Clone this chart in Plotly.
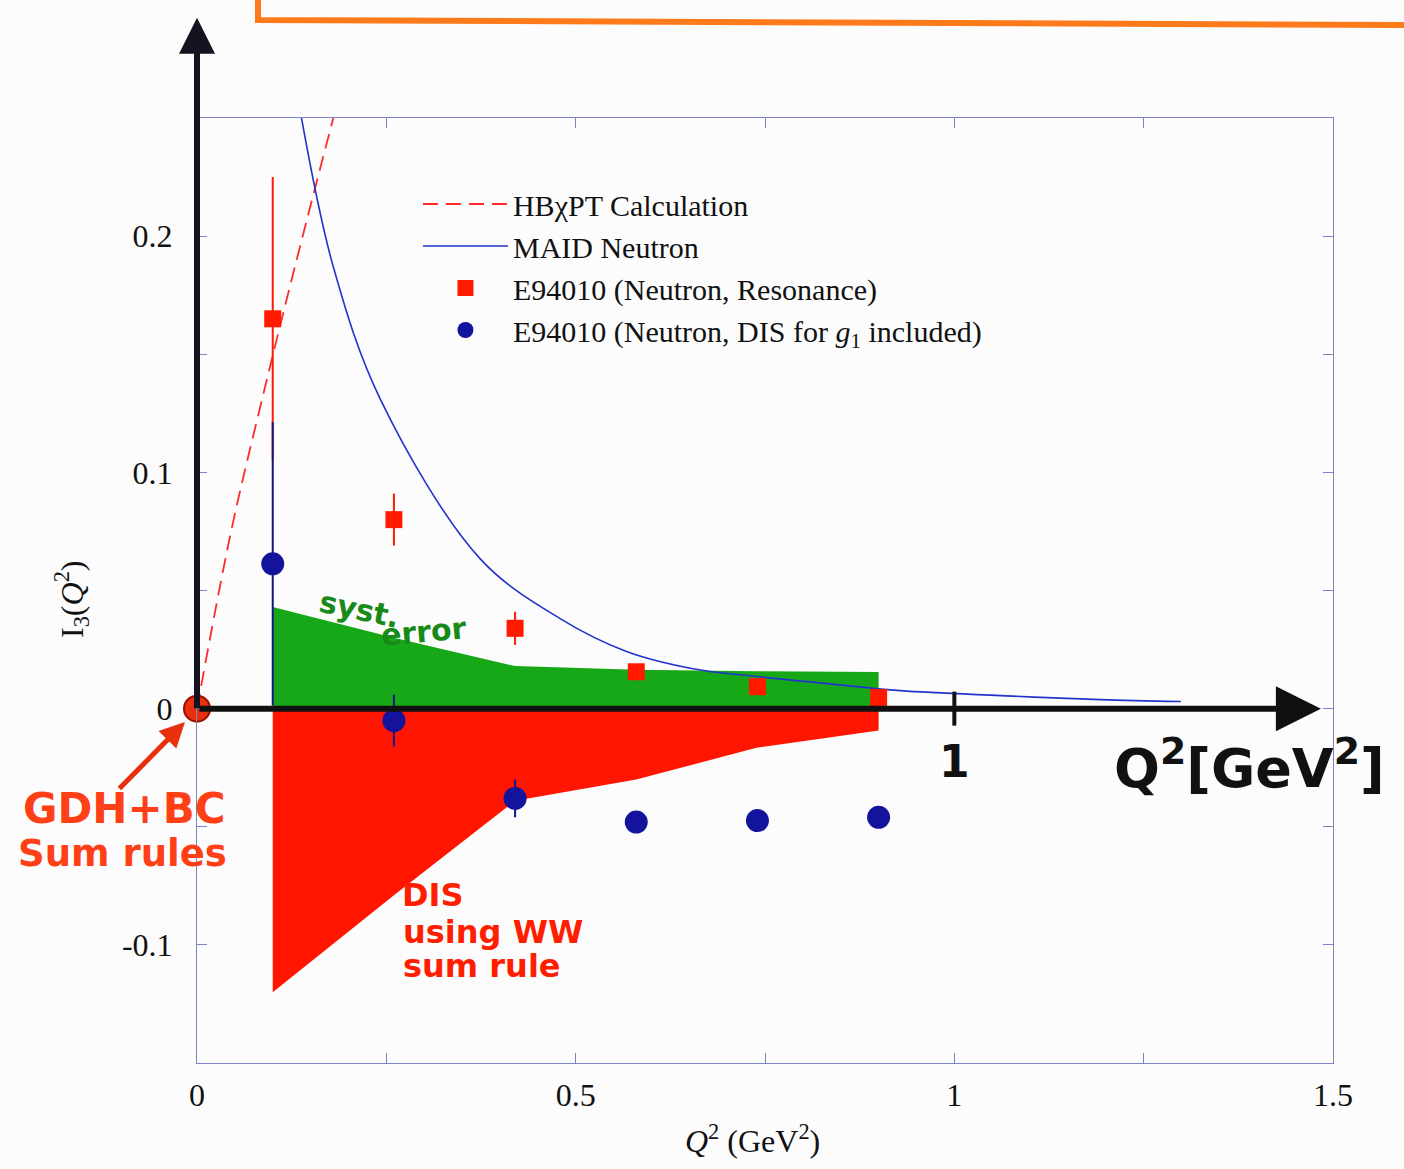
import plotly.graph_objects as go

# ---- data -------------------------------------------------------------
# HBχPT calculation (dashed red)
hb_q2 = [0.0, 0.045, 0.086, 0.13, 0.18]
hb_i3 = [0.0, 0.075, 0.131, 0.188, 0.25]

# MAID neutron curve (solid blue)
maid_q2 = [0.138, 0.18, 0.242, 0.374, 0.48, 0.568, 0.655, 0.727,
           0.832, 0.929, 1.061, 1.193, 1.299]
maid_i3 = [0.250, 0.187, 0.131, 0.0634, 0.038, 0.0241, 0.0169, 0.014,
           0.0106, 0.0076, 0.0055, 0.0038, 0.003]

# E94010 neutron, resonance only
res_q2 = [0.1, 0.26, 0.42, 0.58, 0.74, 0.90]
res_i3 = [0.165, 0.080, 0.034, 0.0156, 0.0093, 0.0047]
res_err = [0.060, 0.011, 0.007, 0.003, 0.002, 0.002]

# E94010 neutron, DIS for g1 included
dis_q2 = [0.1, 0.26, 0.42, 0.58, 0.74, 0.90]
dis_i3 = [0.0613, -0.0051, -0.038, -0.048, -0.0474, -0.046]
dis_err = [0.060, 0.011, 0.008, 0.0, 0.0, 0.0]

# systematic error band (green) and DIS-via-WW band (red)
band_q2 = [0.1, 0.26, 0.42, 0.58, 0.74, 0.90]
syst_top = [0.043, 0.030, 0.018, 0.0165, 0.0158, 0.0155]
ww_low = [-0.120, -0.079, -0.039, -0.030, -0.0165, -0.0093]

# axis ticks
x_tick_vals = [0, 0.25, 0.5, 0.75, 1.0, 1.25, 1.5]
x_tick_text = ["0", "", "0.5", "", "1", "", "1.5"]
y_tick_vals = [-0.15, -0.1, -0.05, 0, 0.05, 0.1, 0.15, 0.2, 0.25]
y_tick_text = ["", "-0.1", "", "0", "", "0.1", "", "0.2", ""]

SERIF = "Liberation Serif"
HAND = "DejaVu Sans"
FRAME = "#7d84c4"

fig = go.Figure()

# shaded bands
zeros = [0.0] * len(band_q2)
fig.add_trace(go.Scatter(
    x=band_q2 + band_q2[::-1], y=zeros + ww_low[::-1],
    fill="toself", fillcolor="#ff1500", mode="none",
    showlegend=False, hoverinfo="skip"))
fig.add_trace(go.Scatter(
    x=band_q2 + band_q2[::-1], y=syst_top + zeros[::-1],
    fill="toself", fillcolor="#16a816", mode="none",
    showlegend=False, hoverinfo="skip"))

# theory curves
fig.add_trace(go.Scatter(
    x=hb_q2, y=hb_i3, mode="lines", name="HBχPT Calculation",
    line=dict(color="#ff2b2b", width=1.8, dash="15px,8px", shape="spline")))
fig.add_trace(go.Scatter(
    x=maid_q2, y=maid_i3, mode="lines", name="MAID Neutron",
    line=dict(color="#2233cc", width=1.6, shape="spline", smoothing=1.0)))

# data points
fig.add_trace(go.Scatter(
    x=res_q2, y=res_i3, mode="markers",
    name="E94010 (Neutron, Resonance)",
    marker=dict(symbol="square", size=17, color="#ff1a00"),
    error_y=dict(type="data", array=res_err, color="#ff1a00",
                 thickness=2, width=0)))
fig.add_trace(go.Scatter(
    x=dis_q2, y=dis_i3, mode="markers",
    name="E94010 (Neutron, DIS for <i>g</i><sub>1</sub> included)",
    marker=dict(symbol="circle", size=23, color="#13139c"),
    error_y=dict(type="data", array=dis_err, color="#15158a",
                 thickness=2, width=0)))

# sum-rule point at the origin
fig.add_trace(go.Scatter(
    x=[0], y=[0], mode="markers", showlegend=False, cliponaxis=False,
    marker=dict(size=26, color="#e8300c",
                line=dict(color="#9c1000", width=2)),
    hoverinfo="skip"))

C = dict(xanchor="center", yanchor="middle", showarrow=False)

annotations = [
    # hand-drawn axes arrows
    dict(x=0, xref="x", y=1.106, yref="paper", ax=0, ay=692,
         showarrow=True, arrowhead=2, arrowsize=1.2, arrowwidth=6,
         arrowcolor="#141420", text=""),
    dict(x=1.484, y=0, xref="x", yref="y", ax=-1123, ay=0,
         showarrow=True, arrowhead=2, arrowsize=1.5, arrowwidth=6,
         arrowcolor="#101010", text=""),
    dict(x=1.0, y=-0.0225, xref="x", yref="y", text="<b>1</b>",
         font=dict(family=HAND, size=44, color="#111"), **C),
    dict(x=1.390, y=-0.0235, xref="x", yref="y",
         text="<b>Q<sup>2</sup>[GeV<sup>2</sup>]</b>",
         font=dict(family=HAND, size=54, color="#111"), **C),
    # GDH + BC note (outside the plot area, so placed in paper units)
    dict(x=-0.0106, y=0.3608, xref="paper", yref="paper", ax=-67, ay=68,
         showarrow=True, arrowhead=2, arrowsize=1.0, arrowwidth=5,
         arrowcolor="#e8300c", text=""),
    dict(x=-0.0634, y=0.2690, xref="paper", yref="paper",
         text="<b>GDH+BC</b>",
         font=dict(family=HAND, size=42, color="#ff3f16"), **C),
    dict(x=-0.066, y=0.2215, xref="paper", yref="paper",
         text="<b>Sum rules</b>",
         font=dict(family=HAND, size=37, color="#ff3f16"), **C),
    # syst. error note
    dict(x=0.215, y=0.0420, xref="x", yref="y", text="<b>syst.</b>",
         textangle=12, font=dict(family=HAND, size=30, color="#178a17"), **C),
    dict(x=0.300, y=0.0325, xref="x", yref="y", text="<b>error</b>",
         textangle=-5, font=dict(family=HAND, size=30, color="#178a17"), **C),
    # DIS note
    dict(x=0.268, y=-0.0790, xref="x", yref="y", text="<b>DIS</b>",
         xanchor="left", yanchor="middle", showarrow=False,
         font=dict(family=HAND, size=32, color="#ff1e00")),
    dict(x=0.270, y=-0.0945, xref="x", yref="y", text="<b>using WW</b>",
         xanchor="left", yanchor="middle", showarrow=False,
         font=dict(family=HAND, size=32, color="#ff1e00")),
    dict(x=0.270, y=-0.1090, xref="x", yref="y", text="<b>sum rule</b>",
         xanchor="left", yanchor="middle", showarrow=False,
         font=dict(family=HAND, size=32, color="#ff1e00")),
    # axis titles
    dict(x=-0.110, y=0.490, xref="paper", yref="paper",
         text="I<sub>3</sub>(<i>Q</i><sup>2</sup>)", textangle=-90,
         font=dict(family=SERIF, size=32, color="#111"), **C),
    dict(x=0.4886, y=-0.080, xref="paper", yref="paper",
         text="<i>Q</i><sup>2</sup> (GeV<sup>2</sup>)",
         font=dict(family=SERIF, size=32, color="#111"), **C),
]

shapes = [
    # tick mark at Q^2 = 1 on the hand-drawn axis
    dict(type="line", xref="x", yref="y", x0=1.0, x1=1.0, y0=-0.0072,
         y1=0.0072, line=dict(color="#111", width=4)),
    # orange marker line along the top edge
    dict(type="path", xref="paper", yref="paper",
         path="M 0.0537 1.1249 L 0.0537 1.1037 L 1.07 1.0984",
         line=dict(color="#ff7a1a", width=6)),
]

axis_common = dict(
    showgrid=False, zeroline=False, showline=True, mirror="ticks",
    linecolor=FRAME, linewidth=1, ticks="inside", ticklen=10,
    tickcolor=FRAME, tickwidth=1,
    tickfont=dict(family=SERIF, size=32, color="#111"),
)

fig.update_layout(
    width=1404, height=1169,
    margin=dict(l=197, r=71, t=118, b=106),
    paper_bgcolor="#fcfcfd", plot_bgcolor="#fcfcfd",
    xaxis=dict(range=[0, 1.5], tickvals=x_tick_vals, ticktext=x_tick_text,
               ticklabelstandoff=4, **axis_common),
    yaxis=dict(range=[-0.15, 0.25], tickvals=y_tick_vals,
               ticktext=y_tick_text, ticklabelstandoff=17, **axis_common),
    legend=dict(x=0.1945, y=0.9365, xanchor="left", yanchor="top",
                bgcolor="rgba(0,0,0,0)", itemwidth=85,
                font=dict(family=SERIF, size=30, color="#111"),
                tracegroupgap=0),
    annotations=annotations,
    shapes=shapes,
)

fig.write_html("out.html")
